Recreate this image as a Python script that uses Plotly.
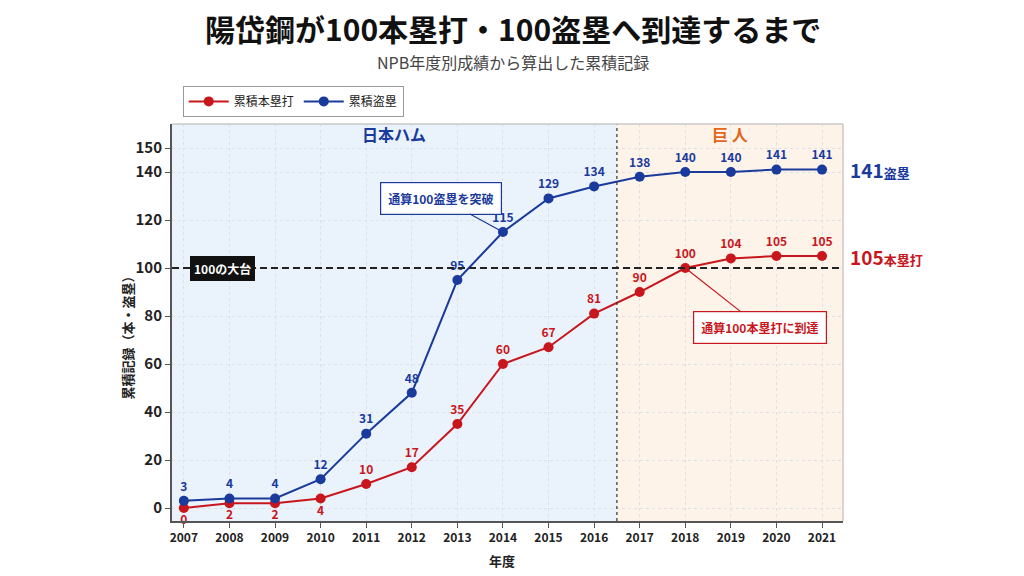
import plotly.graph_objects as go

years = list(range(2007, 2022))
home_runs = [0, 2, 2, 4, 10, 17, 35, 60, 67, 81, 90, 100, 104, 105, 105]
stolen_bases = [3, 4, 4, 12, 31, 48, 95, 115, 129, 134, 138, 140, 140, 141, 141]
hr_label_pos = ["bottom center"] * 4 + ["top center"] * 11
y_ticks = [0, 20, 40, 60, 80, 100, 120, 140, 150]

RED = "#C8161D"
BLUE = "#1A3A9C"
ORANGE = "#E2661C"
FONT = "Noto Sans CJK JP"

X0, X1 = 2006.74, 2021.46
BOUNDARY = 2016.5

fig = go.Figure()

fig.add_trace(go.Scatter(
    x=years, y=home_runs, name="累積本塁打", mode="lines+markers+text",
    line=dict(color=RED, width=2), marker=dict(color=RED, size=10),
    text=[str(v) for v in home_runs], textposition=hr_label_pos,
    textfont=dict(color=RED, size=12, family=FONT, weight=600),
    cliponaxis=False,
))
fig.add_trace(go.Scatter(
    x=years, y=stolen_bases, name="累積盗塁", mode="lines+markers+text",
    line=dict(color=BLUE, width=2), marker=dict(color=BLUE, size=10),
    text=[str(v) for v in stolen_bases], textposition="top center",
    textfont=dict(color=BLUE, size=12, family=FONT, weight=600),
    cliponaxis=False,
))

shapes = [
    dict(type="rect", xref="x", yref="paper", x0=X0, x1=BOUNDARY, y0=0, y1=1,
         fillcolor="#EAF2FC", line=dict(width=0), layer="below"),
    dict(type="rect", xref="x", yref="paper", x0=BOUNDARY, x1=X1, y0=0, y1=1,
         fillcolor="#FDF3E8", line=dict(width=0), layer="below"),
    dict(type="line", xref="x", yref="paper", x0=BOUNDARY, x1=BOUNDARY, y0=0, y1=1,
         line=dict(color="#333", width=1.2, dash="3px,3px")),
    dict(type="line", xref="paper", yref="y", x0=0, x1=1, y0=100, y1=100,
         line=dict(color="#222", width=1.8, dash="7px,4px")),
    dict(type="line", xref="paper", yref="paper", x0=0, x1=1, y0=1, y1=1,
         line=dict(color="#C8C8C8", width=1.5)),
    dict(type="line", xref="paper", yref="paper", x0=1, x1=1, y0=0, y1=1,
         line=dict(color="#C8C8C8", width=1.5)),
]

def note(text, x, y, size, color, xref="paper", yref="paper", **kw):
    d = dict(text=text, xref=xref, yref=yref, x=x, y=y, showarrow=False,
             xanchor="center", yanchor="middle",
             font=dict(size=size, color=color, family=FONT))
    d.update(kw)
    return d

annotations = [
    note("<b>陽岱鋼が100本塁打・100盗塁へ到達するまで</b>", 0.508, 1.242, 30, "#111"),
    note("NPB年度別成績から算出した累積記録", 0.508, 1.156, 16, "#444"),
    note("<b>年度</b>", 0.492, -0.10, 13, "#222"),
    note("<b>累積記録（本・盗塁）</b>", -0.067, 0.47, 13, "#222", textangle=-90),
    note("<b>日本ハム</b>", (X0 + BOUNDARY) / 2, 0.974, 16, BLUE, xref="x"),
    note("<b>巨 人</b>", (BOUNDARY + X1) / 2, 0.974, 16, ORANGE, xref="x"),
    note("<b>100の大台</b>", 0.075, 100, 12, "white", yref="y", bgcolor="#111",
         borderpad=3, bordercolor="#111", borderwidth=1),
    dict(text="<b>通算100盗塁を突破</b>", xref="x", yref="y", x=2014, y=stolen_bases[7],
         ax=-62, ay=-34, showarrow=True, arrowhead=0, arrowwidth=1.2, arrowcolor=BLUE,
         font=dict(size=12, color=BLUE, family=FONT), bgcolor="white", bordercolor=BLUE,
         borderwidth=1.2, borderpad=7),
    dict(text="<b>通算100本塁打に到達</b>", xref="x", yref="y", x=2018, y=home_runs[11],
         ax=75, ay=59, showarrow=True, arrowhead=0, arrowwidth=1.2, arrowcolor=RED,
         font=dict(size=12, color=RED, family=FONT), bgcolor="white", bordercolor=RED,
         borderwidth=1.2, borderpad=7),
    note(f"<b>{stolen_bases[-1]}<span style='font-size:13px'>盗塁</span></b>",
         1.007, stolen_bases[-1], 19, BLUE, yref="y", xanchor="left"),
    note(f"<b>{home_runs[-1]}<span style='font-size:13px'>本塁打</span></b>",
         1.007, home_runs[-1], 19, RED, yref="y", xanchor="left"),
]

fig.update_layout(
    width=1024, height=576,
    margin=dict(l=172, r=181, t=124, b=55),
    paper_bgcolor="white", plot_bgcolor="white",
    font=dict(family=FONT, color="#222"),
    shapes=shapes, annotations=annotations,
    showlegend=True,
    legend=dict(orientation="h", x=0.016, y=1.096, xanchor="left", yanchor="top",
                bgcolor="white", bordercolor="#999", borderwidth=1, itemwidth=40,
                font=dict(size=12, family=FONT, color="#222")),
    xaxis=dict(range=[X0, X1], tickmode="array", tickvals=years,
               ticktext=[str(y) for y in years], showgrid=True, gridcolor="#DDE1E7",
               griddash="dot", zeroline=False, showline=True, linecolor="#555", linewidth=2,
               ticks="outside", ticklen=5, tickcolor="#555",
               tickfont=dict(size=12, family=FONT, color="#222", weight=600)),
    yaxis=dict(range=[-5.4, 160], tickvals=y_ticks,
               showgrid=True, gridcolor="#DDE1E7", griddash="dot", zeroline=False,
               showline=True, linecolor="#555", linewidth=2, ticks="outside",
               ticklen=5, tickcolor="#555",
               tickfont=dict(size=15, family=FONT, color="#222", weight=600)),
)

fig.write_html("out.html")
